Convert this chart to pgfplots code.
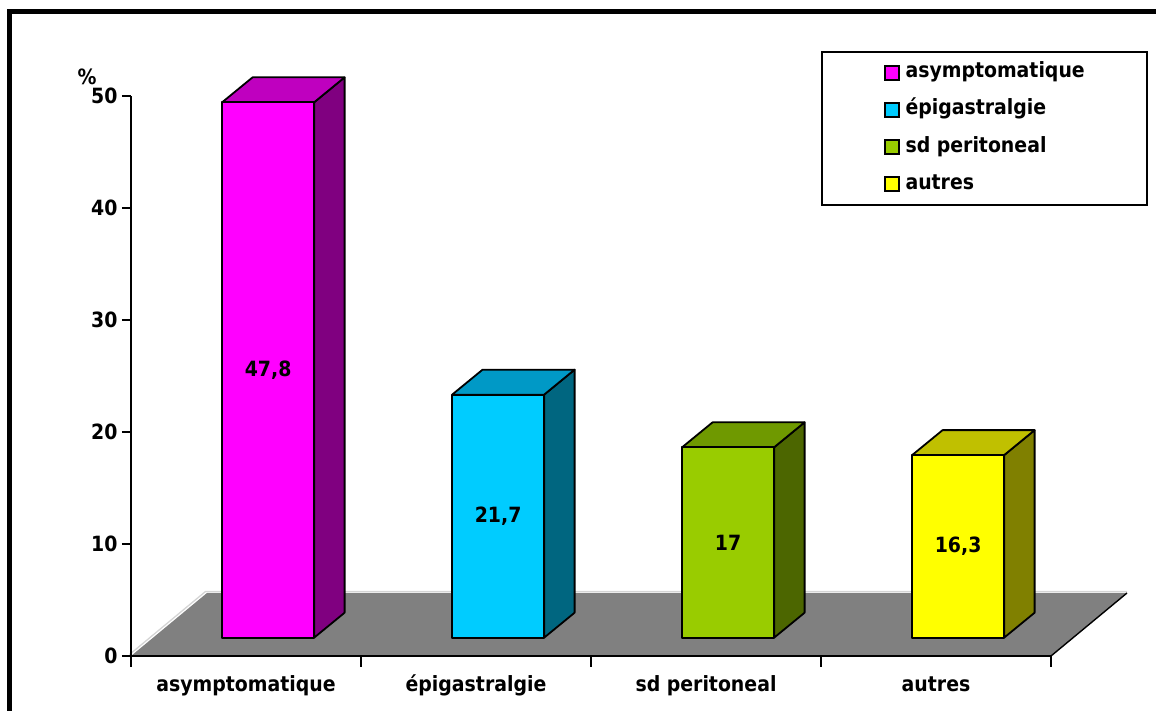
\documentclass[border=0pt]{standalone}
\usepackage{fontspec}
\setmainfont{DejaVu Sans Condensed Bold}
\usepackage{pgfplots}
\usepackage{pgfplotstable}
\pgfplotsset{compat=1.18}

% front, top and side shades of the four boxes
\definecolor{magF}{HTML}{FF00FF}\definecolor{magT}{HTML}{BF00BF}\definecolor{magS}{HTML}{800080}
\definecolor{cyaF}{HTML}{00CCFF}\definecolor{cyaT}{HTML}{0099C6}\definecolor{cyaS}{HTML}{006680}
\definecolor{grnF}{HTML}{99CC00}\definecolor{grnT}{HTML}{6F9900}\definecolor{grnS}{HTML}{4C6600}
\definecolor{yelF}{HTML}{FFFF00}\definecolor{yelT}{HTML}{C0C000}\definecolor{yelS}{HTML}{808000}
\definecolor{floor}{HTML}{808080}
\definecolor{floorline}{HTML}{D4D4D4}

\pgfplotstableread{
x   v
0.5 47.8
1.5 21.7
2.5 17
3.5 16.3
}\shares

% depth geometry (axis units): offset of the box front from the floor front,
% depth of one box, depth of the floor
\def\fdx{0.0961}\def\fdy{1.634}
\def\bdx{0.1326}\def\bdy{2.232}
\def\halfw{0.2}

% one 3-d box: #1 category centre, #2 value, #3 front, #4 top, #5 side colour
\newcommand\drawbox[5]{%
  \pgfmathsetmacro\xa{#1-\halfw+\fdx}%
  \pgfmathsetmacro\xb{#1+\halfw+\fdx}%
  \pgfmathsetmacro\xc{\xa+\bdx}%
  \pgfmathsetmacro\xd{\xb+\bdx}%
  \pgfmathsetmacro\ya{\fdy}%
  \pgfmathsetmacro\yb{\fdy+#2}%
  \pgfmathsetmacro\yc{\ya+\bdy}%
  \pgfmathsetmacro\yd{\yb+\bdy}%
  \edef\boxcmds{%
    \noexpand\addplot[boxface, fill=#5] coordinates {(\xb,\ya) (\xd,\yc) (\xd,\yd) (\xb,\yb)} -- cycle;
    \noexpand\addplot[boxface, fill=#4] coordinates {(\xa,\yb) (\xb,\yb) (\xd,\yd) (\xc,\yd)} -- cycle;
    \noexpand\addplot[boxface, fill=#3] coordinates {(\xa,\ya) (\xb,\ya) (\xb,\yb) (\xa,\yb)} -- cycle;
  }\boxcmds}

\newcommand\lblfont{\fontsize{21}{25}\selectfont}

\begin{document}
\begin{tikzpicture}
\useasboundingbox (-131pt,-55pt) rectangle (1025pt,656pt);
\draw[line width=5pt, line join=miter] (-121pt,-70pt) -- (-121pt,644.7pt) -- (1040pt,644.7pt);
\begin{axis}[
  at={(0pt,0pt)}, anchor=origin,
  x=230pt, y=11.2pt,
  xmin=0, xmax=4, ymin=0, ymax=50,
  clip=false, axis on top,
  axis lines=left,
  axis line style={-, line width=2.2pt},
  tick align=outside,
  ytick={0,10,...,50},
  major tick length=9pt,
  minor tick length=11pt,
  ytick style={line width=2pt, black},
  xtick={0.5,1.5,2.5,3.5},
  xticklabels={asymptomatique, épigastralgie, sd peritoneal, autres},
  minor xtick={0,1,2,3,4},
  major x tick style={draw=none},
  minor x tick style={line width=2pt, black},
  tick label style={font=\lblfont},
  /pgf/number format/assume math mode=true,
  yticklabel style={xshift=-1pt},
  xticklabel style={yshift=-8pt, text height=15pt, text depth=5pt},
  boxface/.style={draw=black, line width=1.8pt, line join=round, forget plot},
  legend image code/.code={\draw[#1, line width=1.6pt] (0pt,-7pt) rectangle (14pt,7pt);},
  legend cell align=left,
  legend style={
    at={(0.75,1.0804)}, anchor=north west,
    draw=black, line width=1.8pt,
    inner xsep=62pt, inner ysep=11pt,
    font=\lblfont,
    nodes={inner sep=0pt, text height=15pt, text depth=5pt},
    row sep=17.1pt,
    /tikz/every odd column/.append style={column sep=6pt},
  },
]
% floor
\addplot[fill=floor, draw=none, forget plot] coordinates {(0,0) (4,0) (4.3304,5.625) (0.3304,5.625)} -- cycle;
\addplot[floorline, line width=1.3pt, forget plot] coordinates {(-0.0065,0.13) (0.3240,5.76) (4.3304,5.76)};
\addplot[black, line width=1.4pt, forget plot] coordinates {(4,0) (4.3304,5.625)};

% boxes
\drawbox{0.5}{47.8}{magF}{magT}{magS}
\drawbox{1.5}{21.7}{cyaF}{cyaT}{cyaS}
\drawbox{2.5}{17}{grnF}{grnT}{grnS}
\drawbox{3.5}{16.3}{yelF}{yelT}{yelS}

% value labels in the middle of each front face
\addplot[only marks, mark=*, mark size=0pt, mark options={draw=none, fill=none}, forget plot,
  point meta=explicit,
  nodes near coords={\pgfmathprintnumber[use comma, fixed, precision=1]{\pgfplotspointmeta}},
  nodes near coords align=center,
  every node near coord/.append style={font=\lblfont, black, anchor=center}]
  table[x expr=\thisrow{x}+\fdx, y expr=\fdy+\thisrow{v}/2, meta=v] {\shares};

\node[font=\lblfont] at (axis cs:-0.191,51.7) {\%};

\addlegendimage{fill=magF, draw=black}\addlegendentry{asymptomatique}
\addlegendimage{fill=cyaF, draw=black}\addlegendentry{épigastralgie}
\addlegendimage{fill=grnF, draw=black}\addlegendentry{sd peritoneal}
\addlegendimage{fill=yelF, draw=black}\addlegendentry{autres}
\end{axis}
\end{tikzpicture}
\end{document}
